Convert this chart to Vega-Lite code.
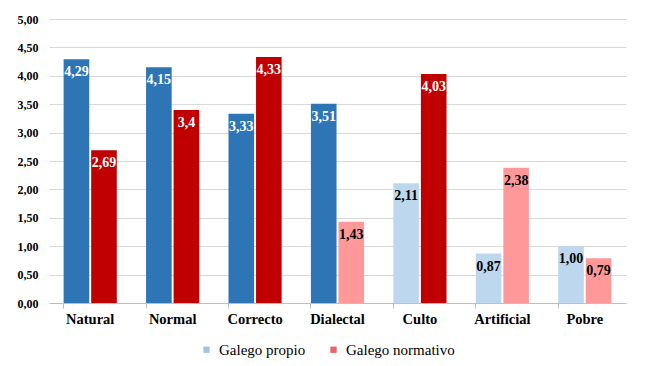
{
  "$schema": "https://vega.github.io/schema/vega-lite/v6.json",
  "width": 577,
  "height": 284,
  "autosize": "none",
  "padding": {"left": 49, "top": 19, "right": 25, "bottom": 63},
  "background": "white",
  "config": {
    "view": {"stroke": null},
    "font": "Liberation Serif",
    "text": {"font": "Liberation Serif"}
  },
  "data": {
    "values": [
      {"categoria": "Natural", "serie": "Galego propio", "nivel": "alto", "valor": 4.29, "etiqueta": "4,29"},
      {"categoria": "Natural", "serie": "Galego normativo", "nivel": "alto", "valor": 2.69, "etiqueta": "2,69"},
      {"categoria": "Normal", "serie": "Galego propio", "nivel": "alto", "valor": 4.15, "etiqueta": "4,15"},
      {"categoria": "Normal", "serie": "Galego normativo", "nivel": "alto", "valor": 3.4, "etiqueta": "3,4"},
      {"categoria": "Correcto", "serie": "Galego propio", "nivel": "alto", "valor": 3.33, "etiqueta": "3,33"},
      {"categoria": "Correcto", "serie": "Galego normativo", "nivel": "alto", "valor": 4.33, "etiqueta": "4,33"},
      {"categoria": "Dialectal", "serie": "Galego propio", "nivel": "alto", "valor": 3.51, "etiqueta": "3,51"},
      {"categoria": "Dialectal", "serie": "Galego normativo", "nivel": "baixo", "valor": 1.43, "etiqueta": "1,43"},
      {"categoria": "Culto", "serie": "Galego propio", "nivel": "baixo", "valor": 2.11, "etiqueta": "2,11"},
      {"categoria": "Culto", "serie": "Galego normativo", "nivel": "alto", "valor": 4.03, "etiqueta": "4,03"},
      {"categoria": "Artificial", "serie": "Galego propio", "nivel": "baixo", "valor": 0.87, "etiqueta": "0,87"},
      {"categoria": "Artificial", "serie": "Galego normativo", "nivel": "baixo", "valor": 2.38, "etiqueta": "2,38"},
      {"categoria": "Pobre", "serie": "Galego propio", "nivel": "baixo", "valor": 1.0, "etiqueta": "1,00"},
      {"categoria": "Pobre", "serie": "Galego normativo", "nivel": "baixo", "valor": 0.79, "etiqueta": "0,79"}
    ]
  },
  "transform": [
    {"calculate": "datum.serie + '|' + datum.nivel", "as": "clave"}
  ],
  "encoding": {
    "x": {
      "field": "categoria",
      "type": "nominal",
      "sort": ["Natural", "Normal", "Correcto", "Dialectal", "Culto", "Artificial", "Pobre"],
      "scale": {"paddingInner": 0.355, "paddingOuter": 0.1775},
      "axis": {
        "title": null,
        "labelAngle": 0,
        "labelFont": "Liberation Serif",
        "labelFontSize": 14.5,
        "labelFontWeight": "bold",
        "labelColor": "#000000",
        "labelPadding": 4,
        "domainColor": "#BFBFBF",
        "domainWidth": 1,
        "ticks": true,
        "tickColor": "#BFBFBF",
        "tickSize": 5,
        "bandPosition": 0,
        "grid": false
      }
    },
    "xOffset": {
      "field": "serie",
      "type": "nominal",
      "sort": ["Galego propio", "Galego normativo"],
      "scale": {"paddingInner": 0.07}
    },
    "y": {
      "field": "valor",
      "type": "quantitative",
      "scale": {"domain": [0, 5]},
      "axis": {
        "title": null,
        "values": [0, 0.5, 1, 1.5, 2, 2.5, 3, 3.5, 4, 4.5, 5],
        "labelExpr": "replace(format(datum.value, '.2f'), '.', ',')",
        "labelFont": "Liberation Serif",
        "labelFontSize": 12,
        "labelFontWeight": "bold",
        "labelColor": "#000000",
        "labelPadding": 11,
        "domain": false,
        "ticks": false,
        "gridColor": "#D9D9D9",
        "gridWidth": 1
      }
    }
  },
  "layer": [
    {
      "mark": {"type": "bar"},
      "encoding": {
        "color": {
          "field": "clave",
          "type": "nominal",
          "scale": {
            "domain": ["Galego propio", "Galego normativo", "Galego propio|alto", "Galego propio|baixo", "Galego normativo|alto", "Galego normativo|baixo"],
            "range": ["#9DC3E6", "#F0606A", "#2E75B6", "#BDD7EE", "#C00000", "#FF9999"]
          },
          "legend": {
            "values": ["Galego propio", "Galego normativo"],
            "title": null,
            "orient": "none",
            "direction": "horizontal",
            "legendX": 150,
            "legendY": 323,
            "symbolType": "square",
            "symbolSize": 40,
            "symbolStrokeWidth": 0,
            "labelFont": "Liberation Serif",
            "labelFontSize": 15,
            "labelColor": "#000000",
            "columnPadding": 20,
            "labelOffset": 5
          }
        }
      }
    },
    {
      "mark": {"type": "text", "baseline": "top", "dy": 6, "fontSize": 14, "fontWeight": "bold", "font": "Liberation Serif"},
      "encoding": {
        "text": {"field": "etiqueta", "type": "nominal"},
        "color": {
          "field": "nivel",
          "type": "nominal",
          "scale": {"domain": ["alto", "baixo"], "range": ["#FFFFFF", "#000000"]},
          "legend": null
        }
      }
    }
  ],
  "resolve": {"scale": {"color": "independent"}}
}
